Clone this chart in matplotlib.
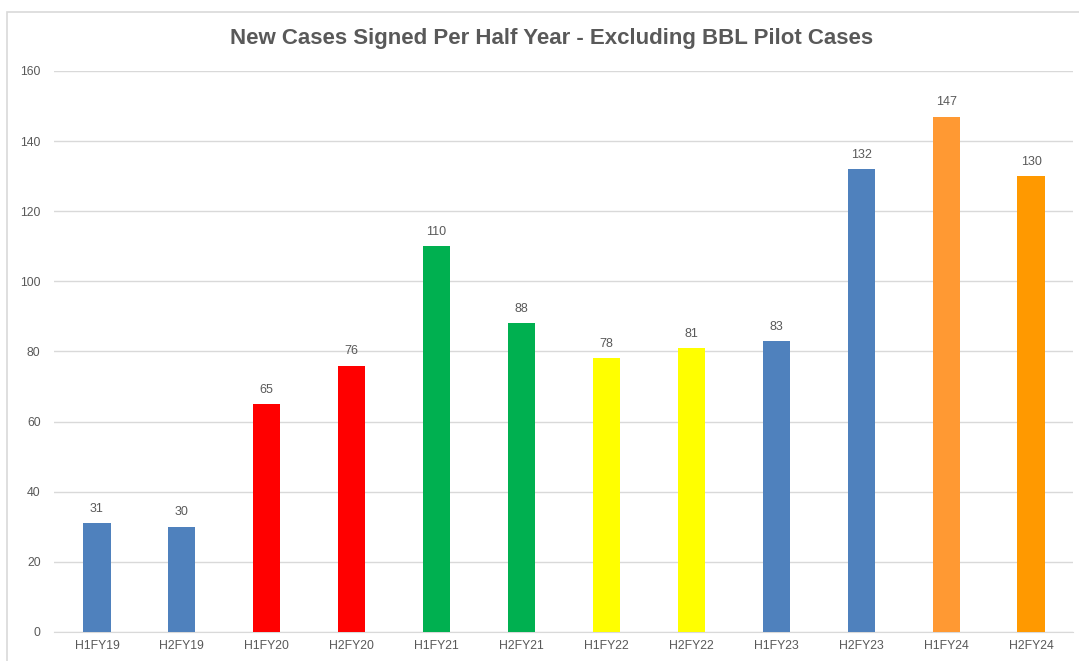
import matplotlib
matplotlib.use("Agg")
import matplotlib.pyplot as plt
from matplotlib.patches import Rectangle

# Data
periods = ["H1FY19", "H2FY19", "H1FY20", "H2FY20", "H1FY21", "H2FY21",
           "H1FY22", "H2FY22", "H1FY23", "H2FY23", "H1FY24", "H2FY24"]
cases = [31, 30, 65, 76, 110, 88, 78, 81, 83, 132, 147, 130]
bar_colors = ["#4F81BD", "#4F81BD", "#FF0000", "#FF0000", "#00B050", "#00B050",
              "#FFFF00", "#FFFF00", "#4F81BD", "#4F81BD", "#FF9933", "#FF9900"]
yticks = [0, 20, 40, 60, 80, 100, 120, 140, 160]

plt.rcParams['font.family'] = ['Liberation Sans', 'DejaVu Sans']
text_grey = "#595959"

fig = plt.figure(figsize=(10.79, 6.61), dpi=100)
fig.patches.append(Rectangle((7 / 1079, -0.01), 1.02, 1 - 12 / 661 + 0.01,
                             transform=fig.transFigure, fill=False,
                             edgecolor="#D9D9D9", linewidth=1.2))

ax = fig.add_axes([0.0505, 0.0439, 0.9444, 0.8487])
x = range(len(periods))
bars = ax.bar(x, cases, width=0.32, color=bar_colors, zorder=3)
for rect, v in zip(bars, cases):
    ax.annotate(str(v), (rect.get_x() + rect.get_width() / 2, v),
                xytext=(0, 6), textcoords="offset points",
                ha="center", va="bottom", fontsize=9, color=text_grey)

ax.set_xlim(-0.5, len(periods) - 0.5)
ax.set_ylim(0, 160)
ax.set_yticks(yticks)
ax.set_xticks(list(x))
ax.set_xticklabels(periods)
ax.tick_params(axis="both", length=0, labelsize=8.8, colors=text_grey)
ax.tick_params(axis="y", pad=10)
ax.tick_params(axis="x", pad=6)
ax.grid(axis="y", color="#D9D9D9", linewidth=1, zorder=0)
for side in ["top", "right", "left"]:
    ax.spines[side].set_visible(False)
ax.spines["bottom"].set_color("#D9D9D9")

fig.text(0.511, 0.942, "New Cases Signed Per Half Year - Excluding BBL Pilot Cases",
         ha="center", va="center", fontsize=16, fontweight="bold", color=text_grey)

fig.savefig("out.png", dpi=100)
